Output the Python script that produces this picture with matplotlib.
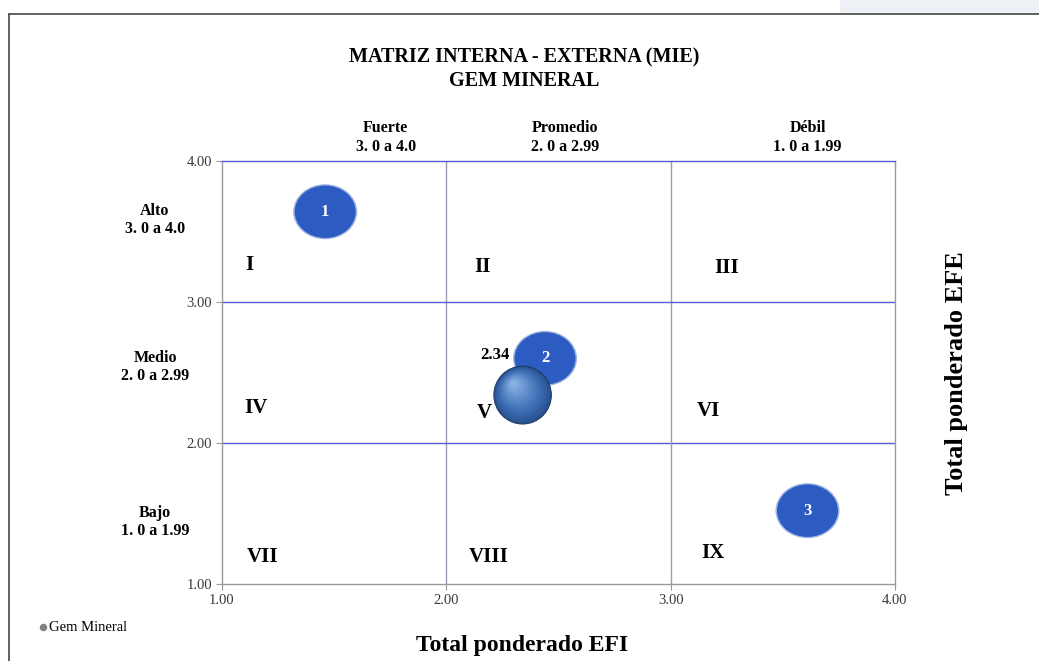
import matplotlib
matplotlib.use("Agg")
import matplotlib.pyplot as plt
from matplotlib.patches import Ellipse, Rectangle
import numpy as np

plt.rcParams['font.family'] = ['Liberation Serif', 'DejaVu Serif']

# ---- data ----
title_lines = ["MATRIZ INTERNA - EXTERNA (MIE)", "GEM MINERAL"]
x_ticks = [1.0, 2.0, 3.0, 4.0]
y_ticks = [1.0, 2.0, 3.0, 4.0]
col_headers = ["Fuerte\n3. 0 a 4.0", "Promedio\n2. 0 a 2.99", "Débil\n1. 0 a 1.99"]
col_centers = [1.73, 2.53, 3.61]
row_headers = ["Alto\n3. 0 a 4.0", "Medio\n2. 0 a 2.99", "Bajo\n1. 0 a 1.99"]
row_centers = [3.58, 2.54, 1.44]
quad_labels = ["I", "II", "III", "IV", "V", "VI", "VII", "VIII", "IX"]
quad_x = [1.12, 2.16, 3.25, 1.15, 2.17, 3.17, 1.18, 2.19, 3.19]
quad_y = [3.26, 3.25, 3.24, 2.25, 2.21, 2.23, 1.19, 1.19, 1.22]
num_labels = ["1", "2", "3"]
num_x = [1.46, 2.44, 3.61]
num_y = [3.64, 2.60, 1.52]
series_name = "Gem Mineral"
series_x = [2.34]
series_y = [2.34]
series_label = ["2.34"]
xlabel = "Total ponderado EFI"
ylabel = "Total ponderado EFE"

W, H = 1039, 661
fig = plt.figure(figsize=(W / 100, H / 100), dpi=100)
fig.patch.set_facecolor('white')

# outer frame
fig.add_artist(Rectangle((840 / W, 1 - 14 / H), 200 / W, 14 / H, transform=fig.transFigure,
                         color='#edf1f5', lw=0))
fig.add_artist(plt.Line2D([9 / W, 9 / W], [0, 1 - 14 / H], color='#555555', lw=1.3,
                          transform=fig.transFigure))
fig.add_artist(plt.Line2D([9 / W, 1], [1 - 14 / H, 1 - 14 / H], color='#555555', lw=1.3,
                          transform=fig.transFigure))

ax = fig.add_axes([222 / W, 1 - 584 / H, (895 - 222) / W, (584 - 161) / H])
ax.set_xlim(1, 4)
ax.set_ylim(1, 4)
ax.set_facecolor('white')

for s in ['left', 'bottom', 'right']:
    ax.spines[s].set_color('#9a9a9a')
    ax.spines[s].set_linewidth(1.0)
ax.spines['top'].set_color('#5a5ad0')
ax.spines['top'].set_linewidth(1.0)

for v in [2.0, 3.0]:
    ax.axvline(v, color='#9a9ab0', lw=1.0, zorder=1)
    ax.axhline(v, color='#5a5ad0', lw=1.0, zorder=1)

ax.set_xticks(x_ticks)
ax.set_yticks(y_ticks)
ax.set_xticklabels([f"{v:.2f}" for v in x_ticks])
ax.set_yticklabels([f"{v:.2f}" for v in y_ticks])
ax.tick_params(axis='both', labelsize=10.5, colors='#9a9a9a', labelcolor='#383838',
               length=4, direction='out')
ax.tick_params(axis='x', pad=3)
ax.tick_params(axis='y', pad=3)

# quadrant labels
for lab, qx, qy in zip(quad_labels, quad_x, quad_y):
    ax.text(qx, qy, lab, fontsize=15, fontweight='bold', ha='center', va='center', zorder=3)

# numbered ellipses
ew, eh = 0.272, 0.372
for lab, nx, ny in zip(num_labels, num_x, num_y):
    for sc, al in [(1.05, 0.45), (1.0, 1.0)]:
        ax.add_patch(Ellipse((nx, ny), ew * sc, eh * sc, facecolor='#2c5cc2', edgecolor='none',
                             alpha=al, zorder=4))
    ax.text(nx, ny, lab, fontsize=12, fontweight='bold', color='white',
            ha='center', va='center', zorder=5)

# sphere bubble (Gem Mineral)
sw, sh = 0.256, 0.41
for bx, by in zip(series_x, series_y):
    n = 16
    edge = np.array([0x2a, 0x52, 0x92]) / 255
    base = np.array([0x3b, 0x6d, 0xb3]) / 255
    light = np.array([0x86, 0xae, 0xe2]) / 255
    for i in range(n):
        t = i / (n - 1)
        sc = 1 - 0.88 * t
        if t < 0.3:
            col = edge * (1 - t / 0.3) + base * (t / 0.3)
        else:
            u = (t - 0.3) / 0.7
            col = base * (1 - u) + light * u
        ax.add_patch(Ellipse((bx - 0.04 * t, by + 0.08 * t), sw * sc, sh * sc,
                             facecolor=col, edgecolor='none', zorder=6 + i * 0.01))
    ax.add_patch(Ellipse((bx, by), sw, sh, facecolor='none', edgecolor='#1e3a66', lw=0.8,
                         zorder=6.5))
ax.scatter([], [], s=30, color='#808080', label=series_name)
for lab, bx, by in zip(series_label, series_x, series_y):
    ax.text(bx - 0.125, by + 0.285, lab, fontsize=12, fontweight='bold', ha='center',
            va='center', zorder=7)

# column & row headers
for lab, cx in zip(col_headers, col_centers):
    ax.text(cx, 4.045, lab, fontsize=11.5, fontweight='bold', ha='center', va='bottom',
            linespacing=1.25, clip_on=False)
for lab, ry in zip(row_headers, row_centers):
    fig.text(155 / W, ax.transData.transform((1, ry))[1] / H, lab, fontsize=11.5,
             fontweight='bold', ha='center', va='center', linespacing=1.2)

# title
fig.text(524 / W, 1 - 57 / H, title_lines[0], fontsize=14.5, fontweight='bold',
         ha='center', va='center')
fig.text(524 / W, 1 - 81 / H, title_lines[1], fontsize=14.5, fontweight='bold',
         ha='center', va='center')

# axis titles
fig.text(522 / W, 1 - 645 / H, xlabel, fontsize=17, fontweight='bold', ha='center', va='center')
fig.text(956 / W, 1 - 373 / H, ylabel, fontsize=19, fontweight='bold', ha='center',
         va='center', rotation=90)

# legend
fig.legend(loc='center left', bbox_to_anchor=(38 / W, 1 - 627 / H), frameon=False,
           fontsize=10.5, handletextpad=0.05, markerscale=0.8, handlelength=0.7,
           borderpad=0, borderaxespad=0)

fig.savefig('out.png', dpi=100, facecolor='white')
